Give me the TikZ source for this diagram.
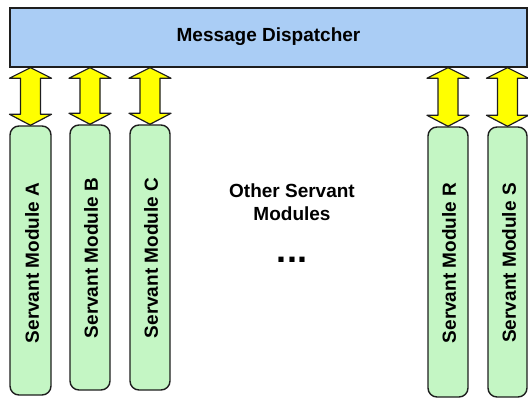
\documentclass[tikz,border=0pt]{standalone}
\usepackage{fontspec}
\setmainfont{Liberation Sans}
\usetikzlibrary{calc}
\definecolor{dispblue}{RGB}{170,205,245}
\definecolor{servgreen}{RGB}{196,246,196}
\definecolor{edgegray}{RGB}{30,30,30}
\definecolor{arrowyellow}{RGB}{255,255,0}
\tikzset{
  dispbox/.style={draw=edgegray, line width=1.4pt, fill=dispblue, rectangle, inner sep=0pt,
    font=\bfseries\fontsize{19}{23}\selectfont},
  servbox/.style={draw=edgegray, line width=1.4pt, fill=servgreen, rectangle, rounded corners=9pt,
    inner sep=0pt},
  servtext/.style={rotate=90, font=\bfseries\fontsize{19}{23}\selectfont, inner sep=0pt},
  plaintext/.style={font=\bfseries\fontsize{19}{23}\selectfont, align=center, inner sep=0pt},
  dotstext/.style={font=\bfseries\fontsize{36}{40}\selectfont, inner sep=0pt},
  blockarrow/.style={draw=edgegray, line width=1.2pt, fill=arrowyellow, line join=round}
}
\newcommand{\dblarrow}[1]{%
  \path[blockarrow] let \p1=(#1.north), \p2=(disp.south) in
    (\x1,\y2) -- (\x1+21pt,\y2-10.5pt) -- (\x1+10pt,\y2-10.5pt) -- (\x1+10pt,\y1+11pt)
    -- (\x1+21pt,\y1+11pt) -- (\x1,\y1) -- (\x1-21pt,\y1+11pt) -- (\x1-10pt,\y1+11pt)
    -- (\x1-10pt,\y2-10.5pt) -- (\x1-21pt,\y2-10.5pt) -- cycle;
}
\begin{document}
\begin{tikzpicture}[x=1pt,y=-1pt]
\useasboundingbox (0,0) rectangle (528,398);
\node[dispbox, minimum width=517pt, minimum height=59pt] (disp) at (268.5,37.5) {};
\node[plaintext] (disptext) at (268.5,37) {Message Dispatcher};

\node[servbox, minimum width=41pt, minimum height=269pt] (A) at (30.5,260.5) {};
\node[servbox, minimum width=40pt, minimum height=265pt] (B) at (90,257.5) {};
\node[servbox, minimum width=40pt, minimum height=265pt] (C) at (150,257.5) {};
\node[servbox, minimum width=40pt, minimum height=270pt] (R) at (448,262) {};
\node[servbox, minimum width=39pt, minimum height=270pt] (S) at (507.5,262) {};

\node[servtext] (tA) at (32,263) {Servant Module A};
\node[servtext] (tB) at (91,258) {Servant Module B};
\node[servtext] (tC) at (151,258) {Servant Module C};
\node[servtext] (tR) at (449,263) {Servant Module R};
\node[servtext] (tS) at (509,263) {Servant Module S};

\dblarrow{A}
\dblarrow{B}
\dblarrow{C}
\dblarrow{R}
\dblarrow{S}

\node[plaintext] (other) at (292,202) {Other Servant\\Modules};
\node[dotstext] (dots) at (292,260) {...};
\end{tikzpicture}
\end{document}
